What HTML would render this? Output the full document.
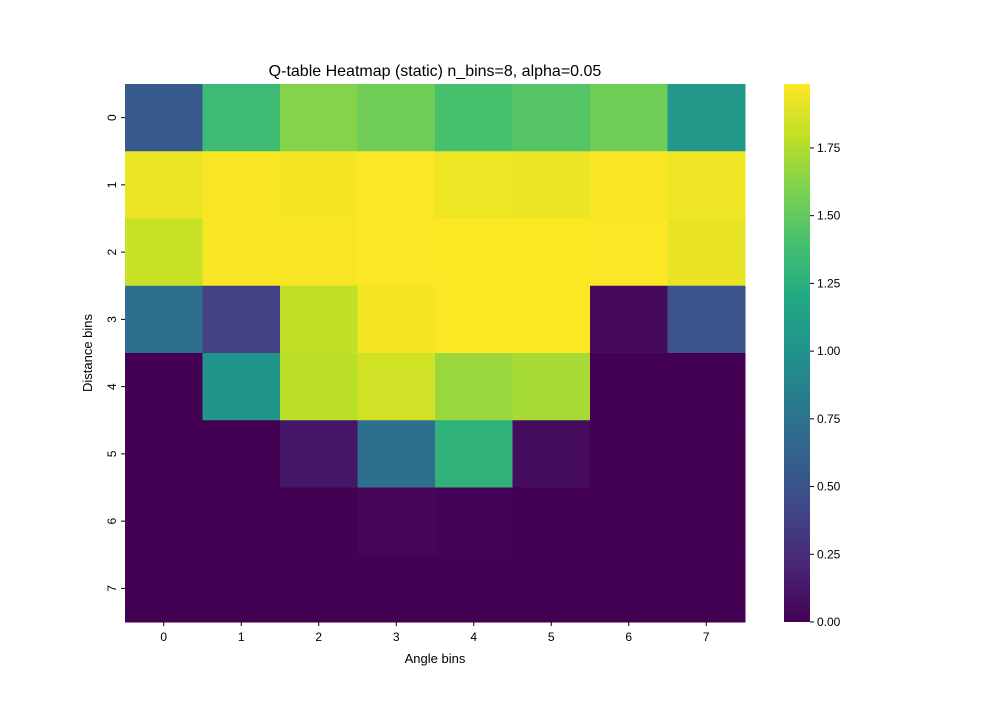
<!DOCTYPE html>
<html><head><meta charset="utf-8"><style>body{margin:0;background:#fff}svg{font-family:"Liberation Sans","DejaVu Sans",sans-serif}</style></head>
<body>
<svg id="chart" width="1000" height="700" viewBox="0 0 1000 700">
<defs><linearGradient id="vg" x1="0" y1="1" x2="0" y2="0">
<stop offset="0" stop-color="#440154"/><stop offset="0.1" stop-color="#482475"/><stop offset="0.2" stop-color="#414487"/><stop offset="0.3" stop-color="#355f8d"/><stop offset="0.4" stop-color="#2a788e"/><stop offset="0.5" stop-color="#21918c"/><stop offset="0.6" stop-color="#22a884"/><stop offset="0.7" stop-color="#44bf70"/><stop offset="0.8" stop-color="#7ad151"/><stop offset="0.9" stop-color="#bddf26"/><stop offset="1" stop-color="#fde725"/></linearGradient></defs>
<text x="435" y="76" font-size="16" text-anchor="middle">Q-table Heatmap (static) n_bins=8, alpha=0.05</text>
<g id="cells"></g>
<g id="axes"></g>
<text x="435" y="663" font-size="13" text-anchor="middle">Angle bins</text>
<text transform="translate(92,353) rotate(-90)" font-size="13" text-anchor="middle">Distance bins</text>
<rect x="784" y="84" width="26" height="538" fill="url(#vg)"/>
<g id="cbar"></g>
</svg>
<script>
const xCategories=["0","1","2","3","4","5","6","7"];
const yCategories=["0","1","2","3","4","5","6","7"];
const row0=[0.55,1.35,1.62,1.55,1.40,1.45,1.55,1.05];
const row1=[1.93,1.97,1.96,1.98,1.94,1.93,1.97,1.95];
const row2=[1.82,1.97,1.97,1.98,1.985,1.985,1.98,1.92];
const row3=[0.72,0.38,1.80,1.96,1.985,1.985,0.05,0.50];
const row4=[0.0,1.02,1.78,1.85,1.68,1.72,0.0,0.0];
const row5=[0.0,0.0,0.12,0.72,1.28,0.06,0.0,0.0];
const row6=[0.0,0.0,0.0,0.03,0.01,0.0,0.0,0.0];
const row7=[0,0,0,0,0,0,0,0];
const cbTicks=["0.00","0.25","0.50","0.75","1.00","1.25","1.50","1.75"];
const vmin=0,vmax=1.986;
const rows=[row0,row1,row2,row3,row4,row5,row6,row7];
const V=["#440154","#482475","#414487","#355f8d","#2a788e","#21918c","#22a884","#44bf70","#7ad151","#bddf26","#fde725"];
function hex(h){return[1,3,5].map(i=>parseInt(h.substr(i,2),16));}
function viridis(t){t=Math.max(0,Math.min(1,t));const p=t*10,i=Math.min(9,Math.floor(p)),f=p-i;const a=hex(V[i]),b=hex(V[i+1]);return"rgb("+a.map((v,k)=>Math.round(v+(b[k]-v)*f)).join(",")+")";}
const X0=125,X1=745,Y0=84,Y1=622;
const cw=(X1-X0)/xCategories.length,ch=(Y1-Y0)/yCategories.length;
const xs=i=>X0+i*cw, ys=j=>Y0+j*ch;
const cbY=v=>Y1-(v-vmin)/(vmax-vmin)*(Y1-Y0);
const NS="http://www.w3.org/2000/svg";
function mk(t,a,p){const e=document.createElementNS(NS,t);for(const k in a)e.setAttribute(k,a[k]);p.appendChild(e);return e;}
const cells=document.getElementById('cells'),axes=document.getElementById('axes'),cb=document.getElementById('cbar');
rows.forEach((r,j)=>r.forEach((v,i)=>{const e=mk('rect',{x:xs(i),y:ys(j),width:cw+0.5,height:ch+0.5,fill:viridis((v-vmin)/(vmax-vmin))},cells);

}));
xCategories.forEach((c,i)=>{const x=xs(i)+cw/2;mk('line',{x1:x,x2:x,y1:Y1,y2:Y1+4,stroke:'#000'},axes);
const t=mk('text',{x:x,y:Y1+19,'font-size':12,'text-anchor':'middle'},axes);t.textContent=c;

});
yCategories.forEach((c,j)=>{const y=ys(j)+ch/2;mk('line',{x1:X0-4,x2:X0,y1:y,y2:y,stroke:'#000'},axes);
const t=mk('text',{transform:'translate('+(X0-9)+','+y+') rotate(-90)','font-size':12,'text-anchor':'middle'},axes);t.textContent=c;

});
cbTicks.forEach(s=>{const y=cbY(parseFloat(s));mk('line',{x1:810,x2:814,y1:y,y2:y,stroke:'#000'},cb);
const t=mk('text',{x:817,y:y+4,'font-size':12},cb);t.textContent=s;

});
</script>
</body></html>
